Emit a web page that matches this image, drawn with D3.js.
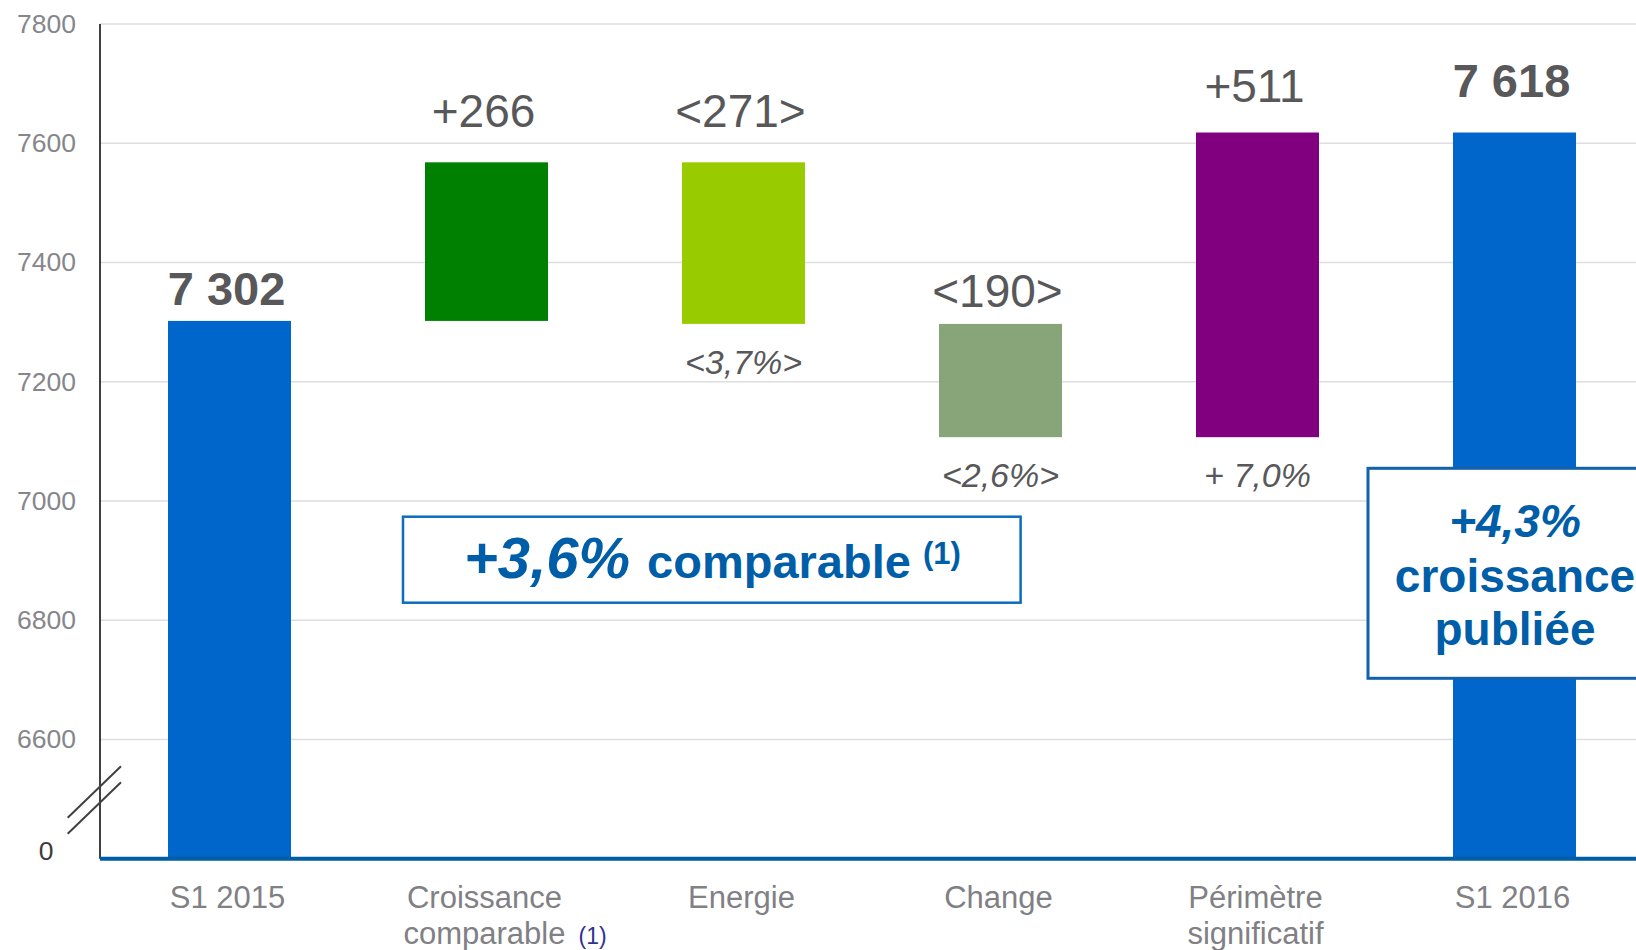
<!DOCTYPE html>
<html>
<head>
<meta charset="utf-8">
<script src="https://cdn.jsdelivr.net/npm/d3@7/dist/d3.min.js"></script>
<style>
  html, body { margin: 0; padding: 0; background: #fff; }
  svg { display: block; font-family: 'Liberation Sans', Arial, sans-serif; }
</style>
</head>
<body>
<div id="chart"></div>
<script>
const categories = ['S1 2015', 'Croissance comparable', 'Energie', 'Change', 'Périmètre significatif', 'S1 2016'];
const categoryLines = [['S1 2015'], ['Croissance', 'comparable'], ['Energie'], ['Change'], ['Périmètre', 'significatif'], ['S1 2016']];
const kinds = ['total', 'delta', 'delta', 'delta', 'delta', 'total'];
const values = [7302, 266, -271, -190, 511, 7618];
const pctLabels = [null, null, '<3,7%>', '<2,6%>', '+ 7,0%', null];
const colors = ['#0066cc', '#008000', '#99cc00', '#88a479', '#800080', '#0066cc'];
const yTicks = [6400, 6600, 6800, 7000, 7200, 7400, 7600, 7800];

const width = 1636;
const height = 950;
const axisX = 100;
const baseY = 858.7;
const labelColor = '#58585a';

// running totals -> bar extents
let running = 0;
const bars = categories.map((c, i) => {
  let lo, hi;
  if (kinds[i] === 'total') {
    lo = 6400; hi = values[i]; running = values[i];
  } else {
    const start = running;
    running += values[i];
    lo = Math.min(start, running); hi = Math.max(start, running);
  }
  return { cat: c, i, lo, hi, value: values[i], kind: kinds[i] };
});

const fmtValue = d => {
  if (d.kind === 'total') return d3.format(',')(d.value).replace(',', ' ');
  return d.value > 0 ? `+${d.value}` : `<${-d.value}>`;
};

const svg = d3.select('#chart')
  .append('svg')
    .attr('width', width)
    .attr('height', height)
    .attr('viewBox', `0 0 ${width} ${height}`);

const x = d3.scaleBand()
  .domain(categories)
  .range([axisX, 1644])
  .paddingInner(0.5214)
  .paddingOuter(0.2646);

const y = d3.scaleLinear()
  .domain([6400, 7800])
  .range([baseY, 24]);

// gridlines
svg.append('g')
  .selectAll('line')
  .data(yTicks.filter(t => t !== 6400))
  .enter()
  .append('line')
    .attr('x1', axisX)
    .attr('x2', width)
    .attr('y1', d => y(d))
    .attr('y2', d => y(d))
    .attr('stroke', '#dedede')
    .attr('stroke-width', 1.5);

// y axis labels
const yAxis = svg.append('g')
  .attr('transform', `translate(${axisX}, 0)`)
  .call(d3.axisLeft(y)
    .tickValues(yTicks)
    .tickSize(0)
    .tickPadding(24)
    .tickFormat(d => (d === 6400 ? '0' : d)));

yAxis.select('.domain').remove();
yAxis.selectAll('.tick text')
  .attr('font-family', "'Liberation Sans', Arial, sans-serif")
  .attr('font-size', 26.5)
  .attr('fill', '#86868b');
yAxis.selectAll('.tick')
  .filter(d => d === 6400)
  .select('text')
    .attr('fill', '#3c3c3c')
    .attr('text-anchor', 'middle')
    .attr('x', -54)
    .attr('dy', '0.02em');

// vertical axis line
svg.append('line')
  .attr('x1', axisX).attr('x2', axisX)
  .attr('y1', y(7800)).attr('y2', baseY)
  .attr('stroke', '#000')
  .attr('stroke-width', 1.5);

// axis break marks
[0, 16].forEach(off => {
  svg.append('line')
    .attr('x1', axisX - 32.3).attr('y1', 817.7 + off)
    .attr('x2', axisX + 21).attr('y2', 766.3 + off)
    .attr('stroke', '#404040')
    .attr('stroke-width', 2);
});

// bars
svg.append('g')
  .selectAll('rect')
  .data(bars)
  .enter()
  .append('rect')
    .attr('x', d => x(d.cat))
    .attr('y', d => y(d.hi))
    .attr('width', x.bandwidth())
    .attr('height', d => y(d.lo) - y(d.hi))
    .attr('fill', (d, i) => colors[i]);

// baseline
svg.append('line')
  .attr('x1', axisX).attr('x2', width)
  .attr('y1', baseY).attr('y2', baseY)
  .attr('stroke', '#005ea6')
  .attr('stroke-width', 4);

// value labels above bars
const labelGap = [16, 35, 35, 17, 31, 36];
svg.append('g')
  .selectAll('text')
  .data(bars)
  .enter()
  .append('text')
    .attr('x', d => x(d.cat) + x.bandwidth() / 2 - 3)
    .attr('y', d => y(d.hi) - labelGap[d.i])
    .attr('text-anchor', 'middle')
    .attr('font-size', d => (d.kind === 'total' ? 47 : 46))
    .attr('font-weight', d => (d.kind === 'total' ? 'bold' : 'normal'))
    .attr('fill', labelColor)
    .text(fmtValue);

// percentage labels below bars
svg.append('g')
  .selectAll('text')
  .data(bars.filter(d => pctLabels[d.i]))
  .enter()
  .append('text')
    .attr('x', d => x(d.cat) + x.bandwidth() / 2)
    .attr('y', d => y(d.lo) + 50)
    .attr('text-anchor', 'middle')
    .attr('font-size', 34)
    .attr('font-style', 'italic')
    .attr('fill', labelColor)
    .text(d => pctLabels[d.i]);

// category labels
const cats = svg.append('g')
  .selectAll('text')
  .data(bars)
  .enter()
  .append('text')
    .attr('text-anchor', 'middle')
    .attr('font-size', 31)
    .attr('fill', '#808085');

cats.selectAll('tspan')
  .data(d => categoryLines[d.i].map(t => ({ t, cx: x(d.cat) + x.bandwidth() / 2 - 2 })))
  .enter()
  .append('tspan')
    .attr('x', d => d.cx)
    .attr('y', (d, i) => 908 + i * 36)
    .text(d => d.t);

// footnote marker after "comparable"
const compLine = cats.filter(d => d.i === 1).select('tspan:nth-child(2)');
const compEnd = x(categories[1]) + x.bandwidth() / 2 - 2 + compLine.node().getComputedTextLength() / 2;
svg.append('text')
  .attr('x', compEnd + 13)
  .attr('y', 944)
  .attr('font-size', 23)
  .attr('fill', '#2e3192')
  .text('(1)');

// "+3,6% comparable" box
svg.append('rect')
  .attr('x', 403).attr('y', 516.7)
  .attr('width', 617.6).attr('height', 86)
  .attr('fill', '#fff')
  .attr('stroke', '#0b6dbf')
  .attr('stroke-width', 2.5);

const boxText = svg.append('text')
  .attr('x', 464)
  .attr('y', 578)
  .attr('fill', '#005ea8')
  .attr('font-weight', 'bold');
boxText.append('tspan')
  .attr('font-size', 58)
  .attr('font-style', 'italic')
  .text('+3,6%');
boxText.append('tspan')
  .attr('font-size', 47)
  .attr('dx', 17)
  .text('comparable');
boxText.append('tspan')
  .attr('font-size', 31)
  .attr('dx', 12)
  .attr('dy', -14)
  .text('(1)');

// "+4,3% croissance publiée" box
svg.append('rect')
  .attr('x', 1368).attr('y', 468.3)
  .attr('width', 300).attr('height', 210)
  .attr('fill', '#fff')
  .attr('stroke', '#1361aa')
  .attr('stroke-width', 3);

const pubLines = [
  { t: '+4,3%', italic: true, size: 46, y: 537 },
  { t: 'croissance', italic: false, size: 46, y: 592 },
  { t: 'publiée', italic: false, size: 46, y: 645 },
];
svg.append('g')
  .selectAll('text')
  .data(pubLines)
  .enter()
  .append('text')
    .attr('x', 1515)
    .attr('y', d => d.y)
    .attr('text-anchor', 'middle')
    .attr('font-size', d => d.size)
    .attr('font-weight', 'bold')
    .attr('font-style', d => (d.italic ? 'italic' : 'normal'))
    .attr('fill', '#005ea8')
    .text(d => d.t);
</script>
</body>
</html>
